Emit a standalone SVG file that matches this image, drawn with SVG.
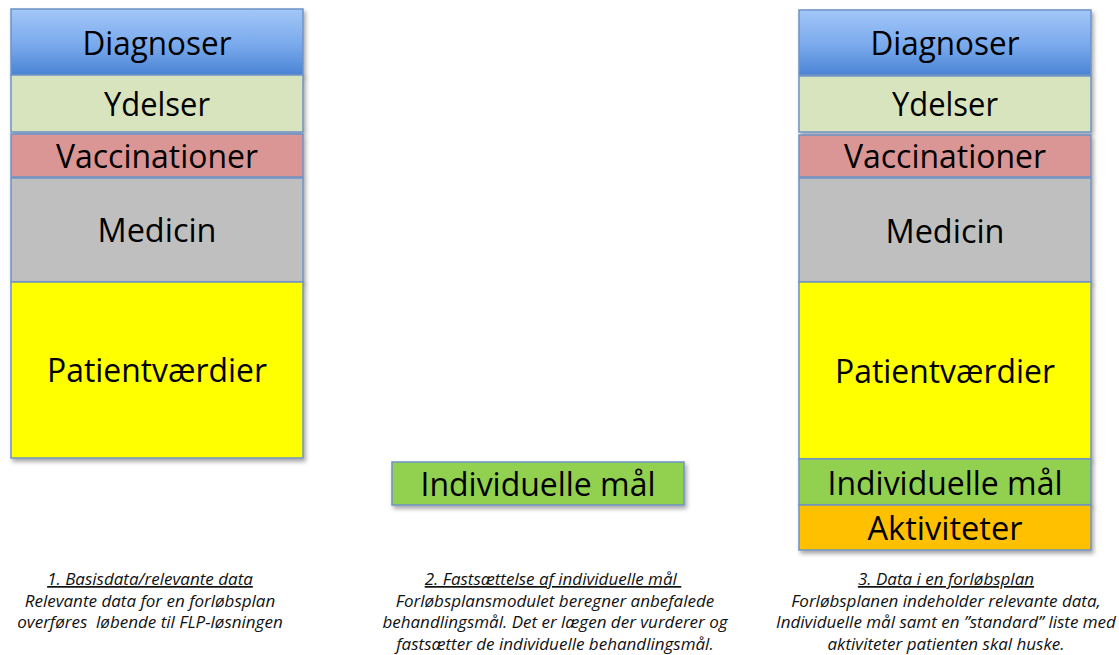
<svg xmlns="http://www.w3.org/2000/svg" width="1119" height="655" viewBox="0 0 1119 655">
  <defs>
    <linearGradient id="gradBlue" x1="0" y1="0" x2="0" y2="1">
      <stop offset="0" stop-color="#a3c7f8"/>
      <stop offset="0.55" stop-color="#79a9ec"/>
      <stop offset="1" stop-color="#4a84d4"/>
    </linearGradient>
    <filter id="shadow" x="-10%" y="-10%" width="125%" height="140%">
      <feDropShadow dx="2" dy="3" stdDeviation="2.2" flood-color="#000" flood-opacity="0.35"/>
    </filter>
  </defs>
  <style>
    .box { stroke: #6f93c6; stroke-width: 1.5; filter: url(#shadow); }
    .lbl { font-family: "Open Sans", "Noto Sans", sans-serif; font-size: 32px; fill: #000; text-anchor: middle; }
    .cap { font-family: "Open Sans", "Noto Sans", sans-serif; font-size: 17px; font-style: italic; fill: #111; text-anchor: middle; white-space: pre; }
    .head { text-decoration: underline; }
  </style>
  <rect width="1119" height="655" fill="#ffffff"/>

  <!-- Column 1: basis data stack -->
  <g id="col1-diagnoser">
    <rect class="box" x="11" y="9" width="292" height="66" fill="url(#gradBlue)"/>
    <text class="lbl" x="157" y="55" textLength="149" lengthAdjust="spacingAndGlyphs">Diagnoser</text>
  </g>
  <g id="col1-ydelser">
    <rect class="box" x="11" y="75" width="292" height="57" fill="#d7e4bd"/>
    <text class="lbl" x="157" y="116" textLength="106" lengthAdjust="spacingAndGlyphs">Ydelser</text>
  </g>
  <g id="col1-vaccinationer">
    <rect class="box" x="11" y="134" width="292" height="43" fill="#d99694"/>
    <text class="lbl" x="157" y="168" textLength="202" lengthAdjust="spacingAndGlyphs">Vaccinationer</text>
  </g>
  <g id="col1-medicin">
    <rect class="box" x="11" y="178" width="292" height="104" fill="#bfbfbf"/>
    <text class="lbl" x="157" y="242" textLength="119" lengthAdjust="spacingAndGlyphs">Medicin</text>
  </g>
  <g id="col1-patientvaerdier">
    <rect class="box" x="11" y="282" width="292" height="176" fill="#ffff00"/>
    <text class="lbl" x="157" y="382" textLength="220" lengthAdjust="spacingAndGlyphs">Patientværdier</text>
  </g>

  <!-- Column 2: individual goals -->
  <g id="col2-individuelle-maal">
    <rect class="box" x="392" y="462" width="292" height="43" fill="#92d050"/>
    <text class="lbl" x="538" y="496" textLength="235" lengthAdjust="spacingAndGlyphs">Individuelle mål</text>
  </g>

  <!-- Column 3: care plan stack -->
  <g id="col3-diagnoser">
    <rect class="box" x="799" y="10" width="292" height="65" fill="url(#gradBlue)"/>
    <text class="lbl" x="945" y="55" textLength="149" lengthAdjust="spacingAndGlyphs">Diagnoser</text>
  </g>
  <g id="col3-ydelser">
    <rect class="box" x="799" y="76" width="292" height="56" fill="#d7e4bd"/>
    <text class="lbl" x="945" y="116" textLength="106" lengthAdjust="spacingAndGlyphs">Ydelser</text>
  </g>
  <g id="col3-vaccinationer">
    <rect class="box" x="799" y="135" width="292" height="42" fill="#d99694"/>
    <text class="lbl" x="945" y="168" textLength="202" lengthAdjust="spacingAndGlyphs">Vaccinationer</text>
  </g>
  <g id="col3-medicin">
    <rect class="box" x="799" y="178" width="292" height="104" fill="#bfbfbf"/>
    <text class="lbl" x="945" y="243" textLength="119" lengthAdjust="spacingAndGlyphs">Medicin</text>
  </g>
  <g id="col3-patientvaerdier">
    <rect class="box" x="799" y="282" width="292" height="177" fill="#ffff00"/>
    <text class="lbl" x="945" y="383" textLength="220" lengthAdjust="spacingAndGlyphs">Patientværdier</text>
  </g>
  <g id="col3-individuelle-maal">
    <rect class="box" x="799" y="459" width="292" height="46" fill="#92d050"/>
    <text class="lbl" x="945" y="495" textLength="235" lengthAdjust="spacingAndGlyphs">Individuelle mål</text>
  </g>
  <g id="col3-aktiviteter">
    <rect class="box" x="799" y="505" width="292" height="45" fill="#ffc000"/>
    <text class="lbl" x="945" y="540" textLength="155" lengthAdjust="spacingAndGlyphs">Aktiviteter</text>
  </g>

  <!-- Captions -->
  <g id="caption1">
    <text class="cap head" x="150" y="585">1. Basisdata/relevante data</text>
    <text class="cap" x="150" y="606.5">Relevante data for en forløbsplan</text>
    <text class="cap" x="150" y="628">overføres  løbende til FLP-løsningen</text>
  </g>
  <g id="caption2">
    <text class="cap head" x="553" y="585">2. Fastsættelse af individuelle mål </text>
    <text class="cap" x="555" y="606.5">Forløbsplansmodulet beregner anbefalede</text>
    <text class="cap" x="555" y="628">behandlingsmål. Det er lægen der vurderer og</text>
    <text class="cap" x="555" y="649.5">fastsætter de individuelle behandlingsmål.</text>
  </g>
  <g id="caption3">
    <text class="cap head" x="946" y="585">3. Data i en forløbsplan</text>
    <text class="cap" x="946" y="606.5">Forløbsplanen indeholder relevante data,</text>
    <text class="cap" x="946" y="628">Individuelle mål samt en ”standard” liste med</text>
    <text class="cap" x="946" y="649.5">aktiviteter patienten skal huske.</text>
  </g>

  <!-- no connectors in this figure -->
  <g id="connectors"/>
</svg>
